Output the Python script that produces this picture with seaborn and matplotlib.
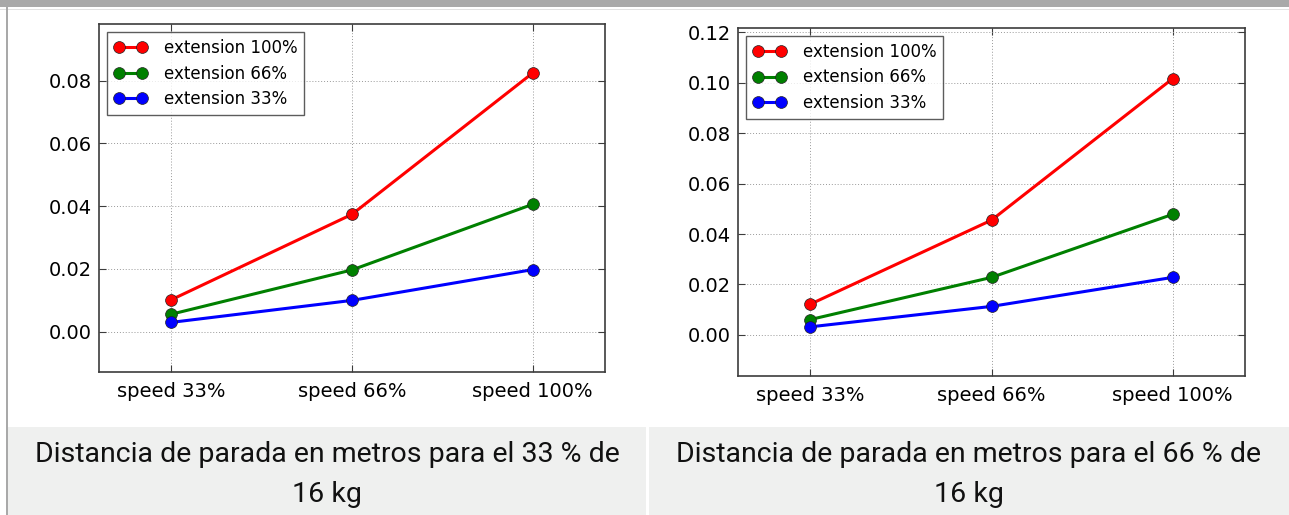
import matplotlib
matplotlib.use("Agg")
import matplotlib.pyplot as plt
from matplotlib.lines import Line2D
from matplotlib.patches import Rectangle
from matplotlib.ticker import MultipleLocator, FormatStrFormatter
import seaborn as sns
import pandas as pd

# ---- data ----
speeds = ["speed 33%", "speed 66%", "speed 100%"]
series = ["extension 100%", "extension 66%", "extension 33%"]
colors = ["#ff0000", "#008000", "#0000ff"]

left_ext100 = [0.0102, 0.0374, 0.0824]
left_ext66 = [0.0056, 0.0197, 0.0406]
left_ext33 = [0.0030, 0.0100, 0.0198]

right_ext100 = [0.0122, 0.0455, 0.1016]
right_ext66 = [0.0061, 0.0228, 0.0478]
right_ext33 = [0.0032, 0.0113, 0.0228]

caption_line1 = ["Distancia de parada en metros para el 33 % de",
                 "Distancia de parada en metros para el 66 % de"]
caption_line2 = ["16 kg", "16 kg"]


def make_df(v100, v66, v33):
    rows = []
    for name, vals in zip(series, [v100, v66, v33]):
        for s, v in zip(speeds, vals):
            rows.append({"speed": s, "extension": name, "value": v})
    return pd.DataFrame(rows)


df_left = make_df(left_ext100, left_ext66, left_ext33)
df_right = make_df(right_ext100, right_ext66, right_ext33)

plt.rcParams["font.family"] = ["DejaVu Sans"]

fig = plt.figure(figsize=(12.89, 5.15), dpi=100)
fig.patch.set_facecolor("white")

# page decorations
fig.add_artist(Rectangle((0, 1 - 7 / 515), 1, 7 / 515, transform=fig.transFigure,
                         facecolor="#a9a9a9", edgecolor="none", zorder=0))
fig.add_artist(Rectangle((0, 1 - 10 / 515), 1, 1.2 / 515, transform=fig.transFigure,
                         facecolor="#e2e2e2", edgecolor="none", zorder=0))
fig.add_artist(Rectangle((5.5 / 1289, 0), 2 / 1289, 1, transform=fig.transFigure,
                         facecolor="#a9a9a9", edgecolor="none", zorder=0))
cap_h = 88 / 515
fig.add_artist(Rectangle((7.5 / 1289, 0), (646 - 7.5) / 1289, cap_h, transform=fig.transFigure,
                         facecolor="#eff0ef", edgecolor="none", zorder=0))
fig.add_artist(Rectangle((649 / 1289, 0), (1289 - 649) / 1289, cap_h, transform=fig.transFigure,
                         facecolor="#eff0ef", edgecolor="none", zorder=0))

ax_left = fig.add_axes([99 / 1289, (515 - 372) / 515, 506 / 1289, 348 / 515])
ax_right = fig.add_axes([738 / 1289, (515 - 376) / 515, 507 / 1289, 348 / 515])

for ax, df, ylim in [(ax_left, df_left, (-0.0128, 0.098)),
                     (ax_right, df_right, (-0.0163, 0.1217))]:
    sns.lineplot(data=df, x="speed", y="value", hue="extension", hue_order=series,
                 palette=colors, marker="o", markersize=8.5, linewidth=2.2,
                 markeredgecolor="#222222", markeredgewidth=0.5, sort=False,
                 legend=False, ax=ax, zorder=3)
    ax.set_xlim(-0.4, 2.4)
    ax.set_ylim(*ylim)
    ax.set_xlabel("")
    ax.set_ylabel("")
    ax.yaxis.set_major_locator(MultipleLocator(0.02))
    ax.yaxis.set_major_formatter(FormatStrFormatter("%.2f"))
    ax.grid(True, color="#999999", linestyle=(0, (1, 2)), linewidth=0.7)
    ax.set_axisbelow(True)
    for sp in ax.spines.values():
        sp.set_color("#3c3c3c")
        sp.set_linewidth(1.2)
    ax.tick_params(axis="both", which="major", direction="in", length=5, width=0.8,
                   top=True, right=True, labelsize=14, color="#3c3c3c", pad=5)
    ax.tick_params(axis="x", pad=7)
    handles = [Line2D([0], [0], color=c, lw=2.2, marker="o", markersize=8.5,
                      markeredgecolor="#222222", markeredgewidth=0.5) for c in colors]
    leg = ax.legend(handles, series, loc="upper left", fontsize=12, numpoints=2,
                    fancybox=False, frameon=True, borderaxespad=0.5,
                    handlelength=2.0, handletextpad=1.0, labelspacing=0.45,
                    borderpad=0.4)
    leg.get_frame().set_edgecolor("#333333")
    leg.get_frame().set_linewidth(1.0)

# captions
for cx, l1, l2 in zip([327 / 1289, 969 / 1289], caption_line1, caption_line2):
    fig.text(cx, (515 - 462) / 515, l1, ha="center", va="baseline", fontsize=20.5,
             family=["Roboto", "DejaVu Sans"], color="#111111")
    fig.text(cx, (515 - 502) / 515, l2, ha="center", va="baseline", fontsize=20.5,
             family=["Roboto", "DejaVu Sans"], color="#111111")

fig.savefig("out.png", dpi=100, facecolor="white")
